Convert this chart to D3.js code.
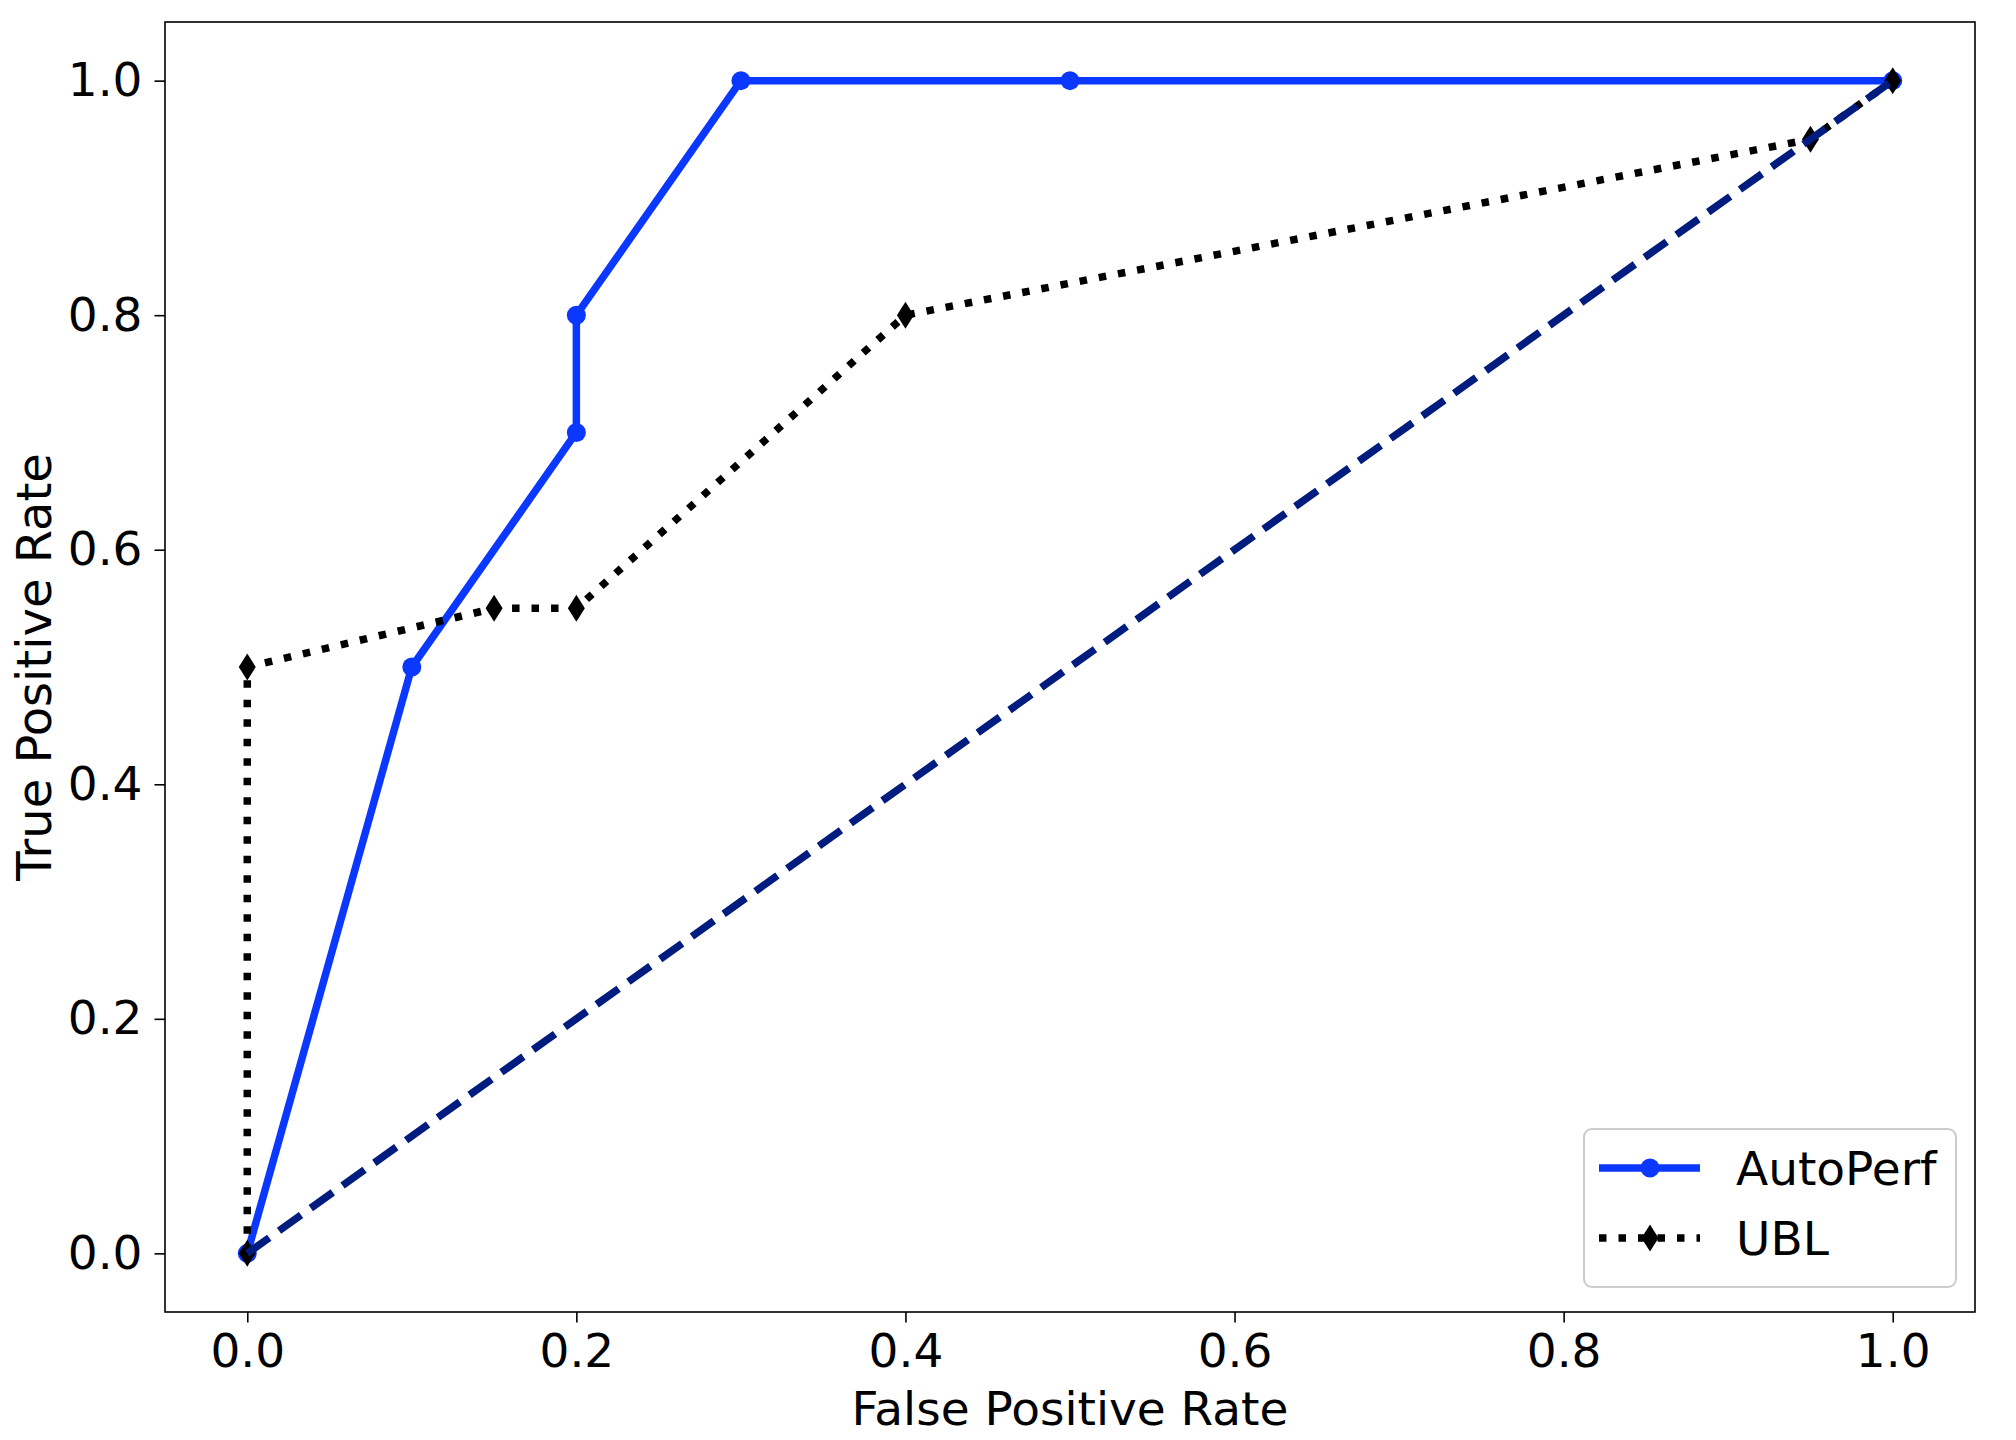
<!DOCTYPE html>
<html>
<head>
<meta charset="utf-8">
<script src="https://cdn.jsdelivr.net/npm/d3@7"></script>
<style>
  html, body { margin: 0; padding: 0; background: #fff; }
  svg { display: block; }
  text { font-family: "DejaVu Sans", sans-serif; fill: #000; }
</style>
</head>
<body>
<div id="container"></div>
<script>
const WIDTH = 2016;
const HEIGHT = 1440;
const margin = { top: 22, right: 41, bottom: 128, left: 165 };

// AutoPerf ROC points
const autoFPR = [0, 0.1, 0.2, 0.2, 0.3, 0.5, 1.0];
const autoTPR = [0, 0.5, 0.7, 0.8, 1.0, 1.0, 1.0];
// UBL ROC points
const ublFPR = [0, 0, 0.15, 0.2, 0.4, 0.95, 1.0];
const ublTPR = [0, 0.5, 0.55, 0.55, 0.8, 0.95, 1.0];
// chance diagonal
const chanceFPR = [0, 1];
const chanceTPR = [0, 1];

const xTicks = [0, 0.2, 0.4, 0.6, 0.8, 1.0];
const yTicks = [0, 0.2, 0.4, 0.6, 0.8, 1.0];
const seriesNames = ["AutoPerf", "UBL"];

const BLUE = "#0a38ff";
const NAVY = "#001c7f";
const FONT = 47;
const LW = 7.5;
const DOT = "7.5,12";

main();

function main() {
    const svg = d3.select("#container").append("svg")
        .attr("width", WIDTH)
        .attr("height", HEIGHT);

    const w = WIDTH - margin.left - margin.right;
    const h = HEIGHT - margin.top - margin.bottom;

    const x = d3.scaleLinear().domain([-0.05, 1.05]).range([0, w]);
    const y = d3.scaleLinear().domain([-0.05, 1.05]).range([h, 0]);

    const g = svg.append("g").attr("transform", `translate(${margin.left},${margin.top})`);

    // axes
    const xAxis = g.append("g")
        .attr("transform", `translate(0,${h})`)
        .call(d3.axisBottom(x).tickValues(xTicks).tickFormat(d3.format(".1f"))
            .tickSize(10.5).tickSizeOuter(0).tickPadding(11.5));
    const yAxis = g.append("g")
        .call(d3.axisLeft(y).tickValues(yTicks).tickFormat(d3.format(".1f"))
            .tickSize(10.5).tickSizeOuter(0).tickPadding(12));
    [xAxis, yAxis].forEach(a => {
        a.select(".domain").remove();
        a.selectAll(".tick line").attr("stroke", "#000").attr("stroke-width", 1.6);
        a.selectAll(".tick text")
            .style("font-family", "DejaVu Sans")
            .style("font-size", FONT + "px")
            .attr("fill", "#000");
    });

    const zip = (xs, ys) => xs.map((v, i) => [v, ys[i]]);
    const line = d3.line().x(d => x(d[0])).y(d => y(d[1]));

    const autoData = zip(autoFPR, autoTPR);
    const ublData = zip(ublFPR, ublTPR);
    const chanceData = zip(chanceFPR, chanceTPR);

    const plot = g.append("g");

    // AutoPerf
    plot.append("path")
        .datum(autoData)
        .attr("d", line)
        .attr("fill", "none")
        .attr("stroke", BLUE)
        .attr("stroke-width", LW)
        .attr("stroke-linejoin", "round")
        .attr("stroke-linecap", "square");
    plot.selectAll("circle.auto")
        .data(autoData)
        .enter()
        .append("circle")
        .attr("class", "auto")
        .attr("cx", d => x(d[0]))
        .attr("cy", d => y(d[1]))
        .attr("r", 9.5)
        .attr("fill", BLUE);

    // UBL
    plot.append("path")
        .datum(ublData)
        .attr("d", line)
        .attr("fill", "none")
        .attr("stroke", "#000")
        .attr("stroke-width", LW)
        .attr("stroke-dasharray", DOT)
        .attr("stroke-linejoin", "round");
    plot.selectAll("path.ubl")
        .data(ublData)
        .enter()
        .append("path")
        .attr("class", "ubl")
        .attr("d", diamond(13.5, 8.5))
        .attr("transform", d => `translate(${x(d[0])},${y(d[1])})`)
        .attr("fill", "#000");

    // chance line
    plot.append("path")
        .datum(chanceData)
        .attr("d", line)
        .attr("fill", "none")
        .attr("stroke", NAVY)
        .attr("stroke-width", LW)
        .attr("stroke-dasharray", "27,12");

    // frame
    g.append("rect")
        .attr("x", 0)
        .attr("y", 0)
        .attr("width", w)
        .attr("height", h)
        .attr("fill", "none")
        .attr("stroke", "#000")
        .attr("stroke-width", 1.6);

    // axis labels
    g.append("text")
        .attr("x", w / 2)
        .attr("y", 1425 - margin.top)
        .attr("text-anchor", "middle")
        .style("font-size", FONT + "px")
        .text("False Positive Rate");
    svg.append("text")
        .attr("transform", `translate(51,${margin.top + h / 2}) rotate(-90)`)
        .attr("text-anchor", "middle")
        .style("font-size", (FONT + 1) + "px")
        .text("True Positive Rate");

    // legend
    const leg = svg.append("g");
    leg.append("rect")
        .attr("x", 1584)
        .attr("y", 1129)
        .attr("width", 372)
        .attr("height", 158)
        .attr("rx", 8)
        .attr("fill", "#fff")
        .attr("fill-opacity", 0.8)
        .attr("stroke", "#cccccc")
        .attr("stroke-width", 2);

    const rows = [1168, 1238];
    // AutoPerf sample
    leg.append("line")
        .attr("x1", 1599).attr("x2", 1700)
        .attr("y1", rows[0]).attr("y2", rows[0])
        .attr("stroke", BLUE).attr("stroke-width", LW);
    leg.append("circle")
        .attr("cx", 1650).attr("cy", rows[0]).attr("r", 9.5)
        .attr("fill", BLUE);
    // UBL sample
    leg.append("line")
        .attr("x1", 1599).attr("x2", 1700)
        .attr("y1", rows[1]).attr("y2", rows[1])
        .attr("stroke", "#000").attr("stroke-width", LW)
        .attr("stroke-dasharray", DOT);
    leg.append("path")
        .attr("d", diamond(13.5, 8.5))
        .attr("transform", `translate(1650,${rows[1]})`)
        .attr("fill", "#000");

    leg.selectAll("text.lab")
        .data(seriesNames)
        .enter()
        .append("text")
        .attr("class", "lab")
        .attr("x", 1736)
        .attr("y", (d, i) => rows[i] + 17)
        .style("font-size", FONT + "px")
        .text(d => d);
}

// thin diamond marker
function diamond(hh, hw) {
    return `M0,${-hh}L${hw},0L0,${hh}L${-hw},0Z`;
}
</script>
</body>
</html>
